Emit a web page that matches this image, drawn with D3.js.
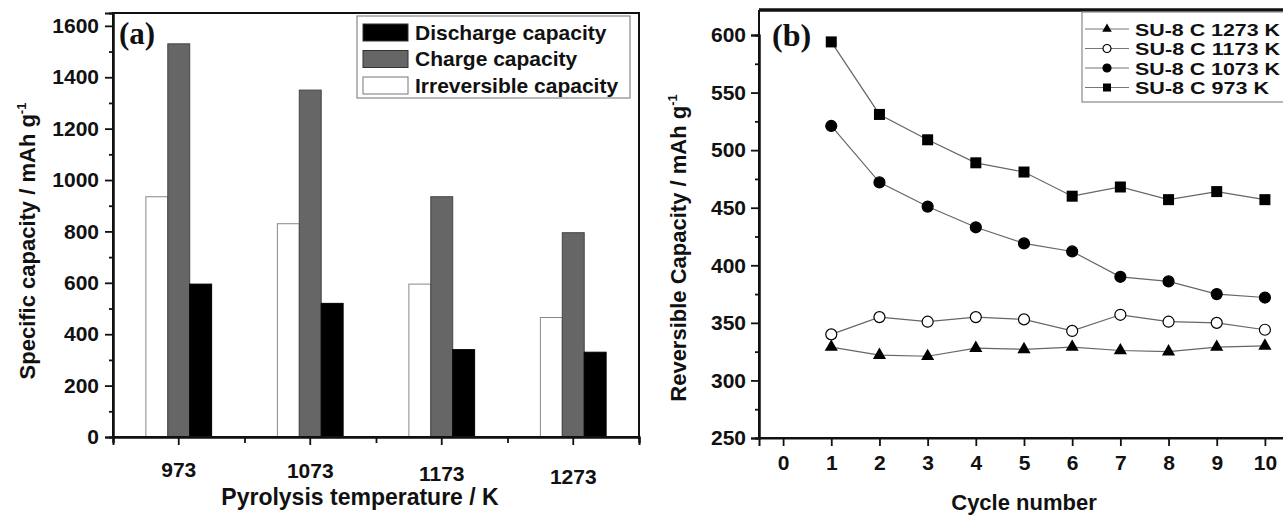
<!DOCTYPE html>
<html lang="en">
<head>
<meta charset="utf-8">
<title>SU-8 carbon capacity</title>
<script src="https://cdn.jsdelivr.net/npm/d3@7"></script>
<style>
    body { margin: 0; background: #fff; }
    text { font-family: "Liberation Sans", Arial, sans-serif; font-weight: bold; fill: #111; }
    .tag { font-family: "Liberation Serif", "Times New Roman", serif; }
</style>
</head>
<body>
<svg id="chart" width="1283" height="516"></svg>
<script>
// panel (a) data
var temps = ["973", "1073", "1173", "1273"];
var seriesA = ["Irreversible capacity", "Charge capacity", "Discharge capacity"];
var irreversible = [935, 830, 595, 465];
var charge = [1530, 1350, 935, 795];
var discharge = [595, 520, 340, 330];
var yTicksA = [0, 200, 400, 600, 800, 1000, 1200, 1400, 1600];
var legendA = ["Discharge capacity", "Charge capacity", "Irreversible capacity"];

// panel (b) data
var cycles = [1, 2, 3, 4, 5, 6, 7, 8, 9, 10];
var cap1273 = [329, 322, 321, 328, 327, 329, 326, 325, 329, 330];
var cap1173 = [340, 355, 351, 355, 353, 343, 357, 351, 350, 344];
var cap1073 = [521, 472, 451, 433, 419, 412, 390, 386, 375, 372];
var cap973 = [594, 531, 509, 489, 481, 460, 468, 457, 464, 457];
var seriesB = ["SU-8 C 1273 K", "SU-8 C 1173 K", "SU-8 C 1073 K", "SU-8 C 973 K"];
var xTicksB = [0, 1, 2, 3, 4, 5, 6, 7, 8, 9, 10];
var yTicksB = [250, 300, 350, 400, 450, 500, 550, 600];

var svg = d3.select("#chart");
var fills = {"Irreversible capacity": "#fff", "Charge capacity": "#666", "Discharge capacity": "#000"};
var strokes = {"Irreversible capacity": "#888", "Charge capacity": "#444", "Discharge capacity": "#000"};

// ---------- panel (a) ----------
var a = {left: 113, right: 639, top: 13, bottom: 437};
var xA = d3.scaleBand().domain(temps).range([a.left, a.right]).paddingInner(0.5).paddingOuter(0.25);
var xSub = d3.scaleBand().domain(seriesA).range([0, xA.bandwidth()]);
var yA = d3.scaleLinear().domain([0, 1650]).range([a.bottom, a.top]);
var xMinorA = d3.scaleLinear().domain([0.5, 4.5]).range([a.left, a.right]);

var rows = temps.map(function(t, i) {
    return {t: t, vals: [irreversible[i], charge[i], discharge[i]]};
});

var gA = svg.append("g");
rows.forEach(function(r) {
    gA.selectAll(null).data(r.vals).enter().append("rect")
        .attr("x", function(d, j) { return xA(r.t) + xSub(seriesA[j]); })
        .attr("y", function(d) { return yA(d); })
        .attr("width", xSub.bandwidth())
        .attr("height", function(d) { return yA(0) - yA(d); })
        .attr("fill", function(d, j) { return fills[seriesA[j]]; })
        .attr("stroke", function(d, j) { return strokes[seriesA[j]]; })
        .attr("stroke-width", 1);
});

// frame
gA.append("rect").attr("x", a.left).attr("y", a.top)
    .attr("width", a.right - a.left).attr("height", a.bottom - a.top)
    .attr("fill", "none").attr("stroke", "#111").attr("stroke-width", 2);

// y axis
gA.append("g").attr("transform", "translate(" + a.left + ",0)")
    .call(d3.axisLeft(yA).tickValues(yTicksA).tickSize(8).tickPadding(6).tickFormat(d3.format("d")));
gA.append("g").attr("transform", "translate(" + a.left + ",0)")
    .call(d3.axisLeft(yA).tickValues(d3.range(100, 1700, 200)).tickSize(4).tickFormat(""));
// x axis
var xAxA = gA.append("g").attr("transform", "translate(0," + a.bottom + ")")
    .call(d3.axisBottom(xA).tickSize(8).tickPadding(17));
gA.append("g").attr("transform", "translate(0," + a.bottom + ")")
    .call(d3.axisBottom(xMinorA).tickValues([0.5, 1.5, 2.5, 3.5, 4.5]).tickSize(6).tickFormat(""));
// the original labels sag a little to the right
var sag = [0, 1, 4, 7];
xAxA.selectAll(".tick text").attr("dy", function(d, i) { return (0.71 + sag[i] / 22) + "em"; });

// legend (a)
var lgA = gA.append("g");
lgA.append("rect").attr("x", 357).attr("y", 16).attr("width", 273).attr("height", 82)
    .attr("fill", "#fff").attr("stroke", "#888").attr("stroke-width", 1.2);
legendA.forEach(function(name, i) {
    var cy = 32 + i * 26.5;
    lgA.append("rect").attr("x", 363).attr("y", cy - 8).attr("width", 45).attr("height", 17)
        .attr("fill", fills[name]).attr("stroke", name === "Irreversible capacity" ? "#777" : "#333");
    lgA.append("text").attr("x", 415).attr("y", cy + 7.5).style("font-size", "21px").text(name);
});

gA.append("text").attr("class", "tag").attr("x", 119).attr("y", 44).style("font-size", "31px").text("(a)");

// axis titles (a)
var ytA = gA.append("text").attr("transform", "translate(35,241) rotate(-90)")
    .attr("text-anchor", "middle").style("font-size", "22px");
ytA.append("tspan").text("Specific capacity / mAh g");
ytA.append("tspan").attr("dy", -9).style("font-size", "13px").text("-1");
gA.append("text").attr("x", 360).attr("y", 505).attr("text-anchor", "middle")
    .style("font-size", "23px").text("Pyrolysis temperature / K");

// ---------- panel (b) ----------
var b = {left: 759, right: 1289, top: 10, bottom: 438};
var xB = d3.scaleLinear().domain([-0.5, 10.5]).range([b.left, b.right]);
var yB = d3.scaleLinear().domain([250, 600]).range([b.bottom, 35]);
var gB = svg.append("g");

gB.append("line").attr("x1", b.left).attr("x2", b.right).attr("y1", b.top).attr("y2", b.top)
    .attr("stroke", "#111").attr("stroke-width", 3.5);
gB.append("line").attr("x1", b.left).attr("x2", b.left).attr("y1", b.top).attr("y2", b.bottom)
    .attr("stroke", "#111").attr("stroke-width", 2);
gB.append("line").attr("x1", b.left).attr("x2", b.right).attr("y1", b.bottom).attr("y2", b.bottom)
    .attr("stroke", "#111").attr("stroke-width", 2);

gB.append("g").attr("transform", "translate(" + b.left + ",0)")
    .call(d3.axisLeft(yB).tickValues(yTicksB).tickSize(8).tickPadding(5));
gB.append("g").attr("transform", "translate(" + b.left + ",0)")
    .call(d3.axisLeft(yB).tickValues([275, 325, 375, 425, 475, 525, 575]).tickSize(4).tickFormat(""));
gB.append("g").attr("transform", "translate(0," + b.bottom + ")")
    .call(d3.axisBottom(xB).tickValues(xTicksB).tickSize(8).tickPadding(9).tickFormat(d3.format("d")));

var line = d3.line().x(function(d) { return xB(d[0]); }).y(function(d) { return yB(d[1]); });
var dataB = [cap1273, cap1173, cap1073, cap973];
var shapes = ["triangle", "open", "circle", "square"];

function marker(sel, kind, size) {
    if (kind === "square") {
        sel.append("rect").attr("x", -size / 2).attr("y", -size / 2)
            .attr("width", size).attr("height", size).attr("fill", "#000");
    } else if (kind === "triangle") {
        sel.append("path").attr("d", d3.symbol(d3.symbolTriangle, size * size * 0.62)).attr("fill", "#000");
    } else {
        sel.append("circle").attr("r", size / 2)
            .attr("fill", kind === "open" ? "#fff" : "#000")
            .attr("stroke", "#000").attr("stroke-width", 1.2);
    }
}

dataB.forEach(function(vals, k) {
    var pts = cycles.map(function(c, i) { return [c, vals[i]]; });
    gB.append("path").attr("d", line(pts)).attr("fill", "none")
        .attr("stroke", "#666").attr("stroke-width", 1.2);
    pts.forEach(function(p) {
        var m = gB.append("g").attr("transform", "translate(" + xB(p[0]) + "," + yB(p[1]) + ")");
        marker(m, shapes[k], 11);
    });
});

// legend (b) - tight rows, glyphs stretched wide like the original
var lgB = gB.append("g");
lgB.append("rect").attr("x", 1082).attr("y", 12).attr("width", 220).attr("height", 90)
    .attr("fill", "#fff").attr("stroke", "#888").attr("stroke-width", 1.2);
seriesB.forEach(function(name, i) {
    var cy = 29 + i * 19.5;
    lgB.append("line").attr("x1", 1085).attr("x2", 1129).attr("y1", cy).attr("y2", cy)
        .attr("stroke", "#777").attr("stroke-width", 1.2);
    var m = lgB.append("g").attr("transform", "translate(1107," + cy + ")");
    marker(m, shapes[i], 8);
    lgB.append("text").attr("x", 1135).attr("y", cy + 6.5).style("font-size", "17px")
        .attr("textLength", name.length > 12 ? 145 : 134).attr("lengthAdjust", "spacingAndGlyphs")
        .text(name);
});

gB.append("text").attr("class", "tag").attr("x", 772).attr("y", 46).style("font-size", "32px").text("(b)");

var ytB = gB.append("text").attr("transform", "translate(686,248) rotate(-90)")
    .attr("text-anchor", "middle").style("font-size", "22px");
ytB.append("tspan").text("Reversible Capacity / mAh g");
ytB.append("tspan").attr("dy", -9).style("font-size", "13px").text("-1");
gB.append("text").attr("x", 1024).attr("y", 510).attr("text-anchor", "middle")
    .style("font-size", "22px").text("Cycle number");

// shared tick styling
svg.selectAll(".tick text").style("font-size", "21px").style("font-family", "'Liberation Sans', Arial, sans-serif")
    .style("font-weight", "bold").attr("fill", "#111");
svg.selectAll(".tick line").attr("stroke", "#111").attr("stroke-width", 1.8);
svg.selectAll(".domain").attr("stroke", "#111").attr("stroke-width", 2);
</script>
</body>
</html>
